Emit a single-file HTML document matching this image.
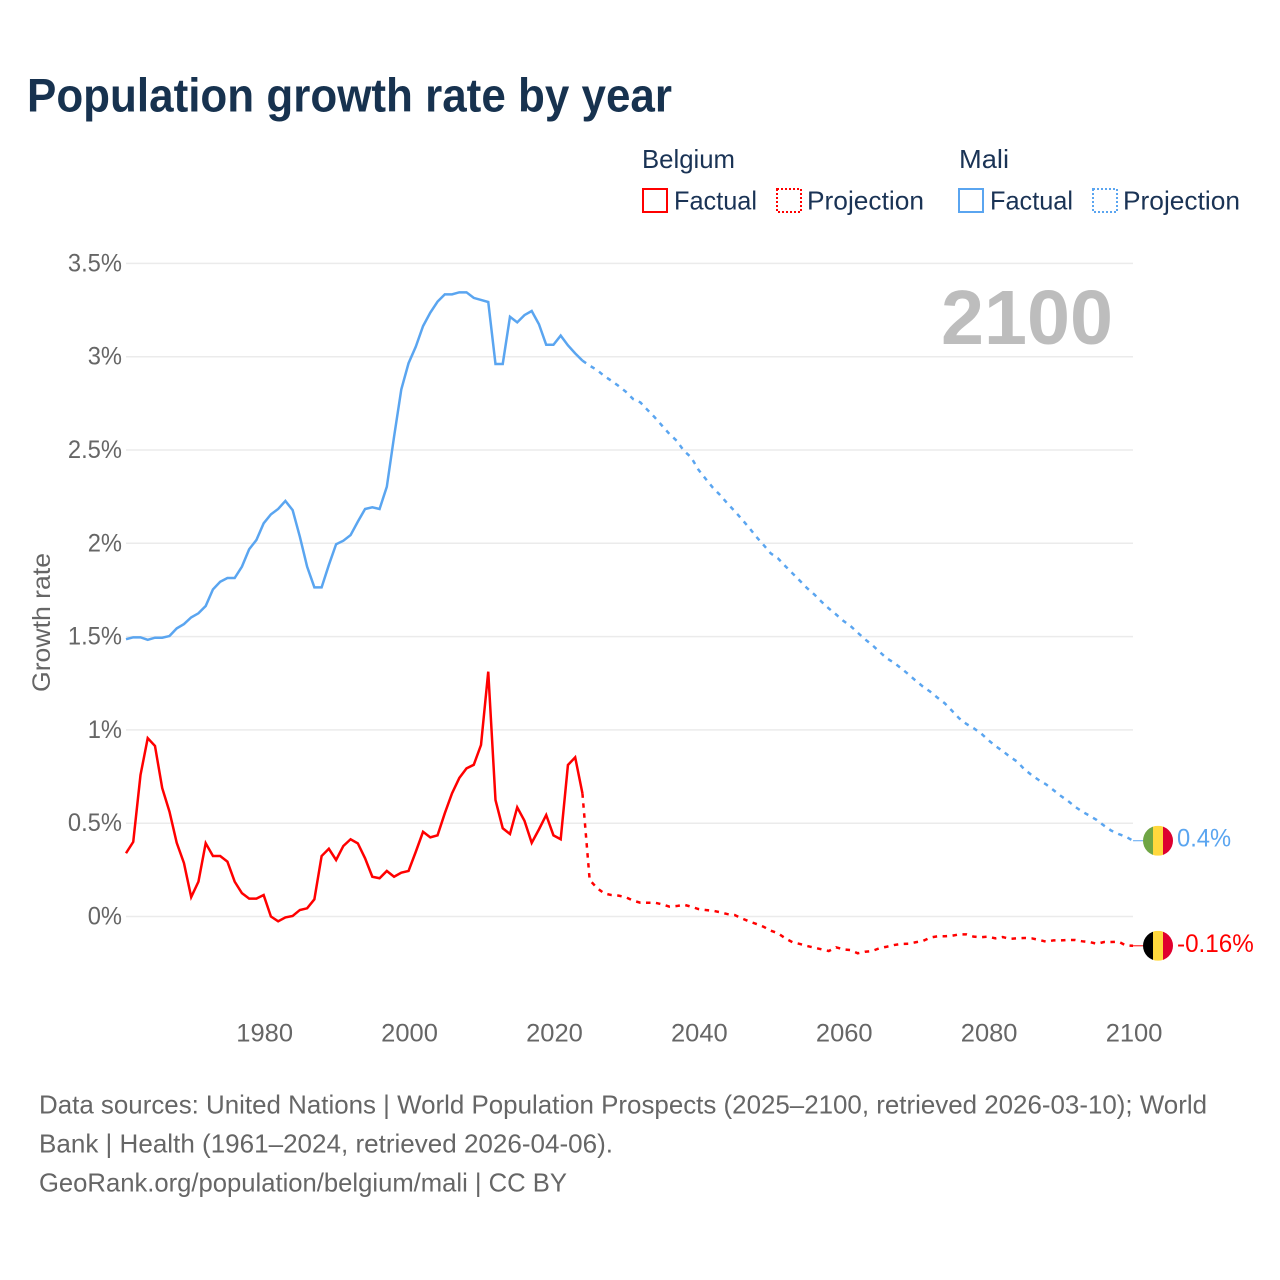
<!DOCTYPE html>
<html lang="en">
<head>
<meta charset="utf-8">
<title>Population growth rate by year</title>
<style>
html,body{margin:0;padding:0;background:#fff;}
svg{display:block;font-family:"Liberation Sans",Arial,sans-serif;}
</style>
</head>
<body>
<svg id="chart" xmlns="http://www.w3.org/2000/svg" width="1280" height="1280" viewBox="0 0 1280 1280">
  <rect x="0" y="0" width="1280" height="1280" fill="#ffffff"/>
  <defs>
    <clipPath id="clip-mali"><circle id="clip-mali-c" cx="1158" cy="841" r="15"/></clipPath>
    <clipPath id="clip-belgium"><circle id="clip-belgium-c" cx="1158" cy="945" r="15"/></clipPath>
  </defs>

  <text x="27" y="111.5" font-size="47" font-weight="700" fill="#17324f" textLength="645" lengthAdjust="spacingAndGlyphs">Population growth rate by year</text>

  <g font-size="26" fill="#1a3355">
    <text x="642" y="168" textLength="93" lengthAdjust="spacingAndGlyphs">Belgium</text>
    <text x="959" y="168" textLength="50" lengthAdjust="spacingAndGlyphs">Mali</text>
    <rect x="643" y="189" width="24" height="23" fill="none" stroke="#ff0000" stroke-width="2"/>
    <text x="674" y="209.5" textLength="83" lengthAdjust="spacingAndGlyphs">Factual</text>
    <rect x="777" y="189" width="24" height="23" fill="none" stroke="#ff0000" stroke-width="2" stroke-dasharray="2 2"/>
    <text x="807" y="209.5" textLength="117" lengthAdjust="spacingAndGlyphs">Projection</text>
    <rect x="959" y="189" width="24" height="23" fill="none" stroke="#5aa5f0" stroke-width="2"/>
    <text x="990" y="209.5" textLength="83" lengthAdjust="spacingAndGlyphs">Factual</text>
    <rect x="1093" y="189" width="24" height="23" fill="none" stroke="#5aa5f0" stroke-width="2" stroke-dasharray="2 2"/>
    <text x="1123" y="209.5" textLength="117" lengthAdjust="spacingAndGlyphs">Projection</text>
  </g>

  <g id="grid"></g>
  <g id="y-axis"></g>
  <g id="x-axis"></g>

  <text transform="translate(50,692) rotate(-90)" font-size="25" fill="#666666" textLength="139" lengthAdjust="spacingAndGlyphs">Growth rate</text>

  <text x="941" y="344" font-size="77" font-weight="700" fill="#bdbdbd" textLength="172" lengthAdjust="spacingAndGlyphs">2100</text>

  <g id="series"></g>
  <g id="ends"></g>

  <g font-size="26" fill="#666666">
    <text x="39" y="1113.5" textLength="1168" lengthAdjust="spacingAndGlyphs">Data sources: United Nations | World Population Prospects (2025–2100, retrieved 2026-03-10); World</text>
    <text x="39" y="1152.5" textLength="574" lengthAdjust="spacingAndGlyphs">Bank | Health (1961–2024, retrieved 2026-04-06).</text>
    <text x="39" y="1191.5" textLength="528" lengthAdjust="spacingAndGlyphs">GeoRank.org/population/belgium/mali | CC BY</text>
  </g>
</svg>

<script>
const factualStartYear = 1961;
const projectionStartYear = 2025;
const belgiumFactual = [0.339,0.40,0.758,0.956,0.914,0.688,0.562,0.395,0.286,0.104,0.187,0.393,0.324,0.324,0.294,0.187,0.125,0.096,0.096,0.115,0.0,-0.026,-0.005,0.003,0.035,0.044,0.092,0.324,0.363,0.303,0.378,0.414,0.392,0.312,0.213,0.205,0.244,0.213,0.235,0.244,0.347,0.454,0.424,0.435,0.553,0.66,0.742,0.794,0.813,0.919,1.312,0.624,0.473,0.442,0.585,0.513,0.395,0.467,0.544,0.435,0.414,0.812,0.853,0.66];
const belgiumProjection = [0.196,0.153,0.124,0.115,0.112,0.103,0.085,0.074,0.074,0.074,0.065,0.053,0.056,0.063,0.053,0.04,0.035,0.031,0.023,0.013,0.008,-0.01,-0.026,-0.04,-0.055,-0.076,-0.09,-0.117,-0.138,-0.147,-0.158,-0.167,-0.176,-0.185,-0.165,-0.176,-0.18,-0.197,-0.189,-0.185,-0.17,-0.162,-0.153,-0.147,-0.146,-0.138,-0.131,-0.113,-0.106,-0.106,-0.103,-0.096,-0.096,-0.108,-0.111,-0.108,-0.117,-0.11,-0.12,-0.117,-0.115,-0.117,-0.125,-0.135,-0.128,-0.128,-0.126,-0.126,-0.133,-0.137,-0.146,-0.137,-0.137,-0.135,-0.155,-0.157];
const maliFactual = [1.486,1.496,1.496,1.483,1.494,1.494,1.503,1.544,1.567,1.603,1.625,1.664,1.753,1.794,1.814,1.814,1.875,1.968,2.018,2.107,2.155,2.184,2.227,2.178,2.035,1.875,1.764,1.764,1.884,1.995,2.014,2.044,2.116,2.184,2.193,2.184,2.303,2.571,2.825,2.965,3.054,3.164,3.236,3.295,3.334,3.334,3.345,3.345,3.315,3.304,3.293,2.961,2.961,3.214,3.184,3.223,3.245,3.174,3.064,3.064,3.113,3.061,3.018,2.979];
const maliProjection = [2.952,2.929,2.897,2.871,2.843,2.812,2.773,2.755,2.714,2.674,2.63,2.586,2.55,2.496,2.461,2.395,2.346,2.298,2.259,2.214,2.173,2.129,2.084,2.035,1.991,1.946,1.919,1.878,1.839,1.8,1.76,1.726,1.687,1.651,1.619,1.585,1.557,1.521,1.486,1.455,1.419,1.384,1.36,1.33,1.298,1.264,1.232,1.205,1.173,1.143,1.103,1.062,1.032,1.009,0.982,0.946,0.914,0.887,0.856,0.83,0.789,0.758,0.731,0.708,0.678,0.647,0.62,0.588,0.562,0.54,0.517,0.487,0.46,0.442,0.428,0.406];
const yTickValues = [0,0.5,1,1.5,2,2.5,3,3.5];
const yTickLabels = ["0%","0.5%","1%","1.5%","2%","2.5%","3%","3.5%"];
const xTickYears = [1980,2000,2020,2040,2060,2080,2100];
const endLabels = ["-0.16%","0.4%"];

const NS = "http://www.w3.org/2000/svg";
const RED = "#ff0000";
const BLUE = "#5aa5f0";

function xScale(year){ return 126 + (year - 1961) * 7.2449; }
function yScale(v){ return 916.5 - v * 186.6; }
function mk(tag, attrs, parent){
  const el = document.createElementNS(NS, tag);
  for (const k in attrs) el.setAttribute(k, attrs[k]);
  parent.appendChild(el);
  return el;
}
function fit(el, factor){
  const len = el.getComputedTextLength() * factor;
  el.setAttribute("textLength", len.toFixed(1));
  el.setAttribute("lengthAdjust", "spacingAndGlyphs");
}
function pathFor(values, startYear, prefix){
  let d = prefix || "";
  values.forEach(function(v, i){
    d += (d ? " L" : "M") + xScale(startYear + i).toFixed(2) + " " + yScale(v).toFixed(2);
  });
  return d;
}

const grid = document.getElementById("grid");
const yAxis = document.getElementById("y-axis");
const xAxis = document.getElementById("x-axis");
const seriesG = document.getElementById("series");
const ends = document.getElementById("ends");

yTickValues.forEach(function(v, i){
  const line = mk("line", {x1:126, x2:1133, y1:yScale(v), y2:yScale(v), stroke:"#ebebeb", "stroke-width":1.5}, grid);
  
  
  const t = mk("text", {x:122, y:yScale(v) + 8, "text-anchor":"end", "font-size":25, fill:"#666666"}, yAxis);
  
  
  t.textContent = yTickLabels[i];
  fit(t, 0.95);
});

xTickYears.forEach(function(y){
  const t = mk("text", {x:xScale(y) + 1, y:1041.5, "text-anchor":"middle", "font-size":25, fill:"#666666"}, xAxis);
  
  
  t.textContent = String(y);
  fit(t, 1.02);
});

function drawSeries(factual, projection, color){
  const lastYear = factualStartYear + factual.length - 1;
  const f = mk("path", {d:pathFor(factual, factualStartYear), fill:"none", stroke:color, "stroke-width":2.5, "stroke-linejoin":"miter"}, seriesG);
  
  
  const start = "M" + xScale(lastYear).toFixed(2) + " " + yScale(factual[factual.length - 1]).toFixed(2);
  const p = mk("path", {d:pathFor(projection, projectionStartYear, start), fill:"none", stroke:color, "stroke-width":2.5, "stroke-dasharray":"4.5 5.5"}, seriesG);
  
  
}
drawSeries(belgiumFactual, belgiumProjection, RED);
drawSeries(maliFactual, maliProjection, BLUE);

function drawEnd(values, color, clipId, clipCircleId, stripes, label, fitFactor){
  const v = values[values.length - 1];
  const cy = yScale(v);
  const endYear = projectionStartYear + values.length - 1;
  const conn = mk("line", {x1:xScale(endYear), x2:1143, y1:cy, y2:cy, stroke:color, "stroke-width":1}, ends);
  
  
  document.getElementById(clipCircleId).setAttribute("cy", cy);
  const g = mk("g", {"clip-path":"url(#" + clipId + ")"}, ends);
  
  
  stripes.forEach(function(c, i){
    const w = 10;
    const r = mk("rect", {x:1143 + i * w, y:cy - 15, width:w, height:30, fill:c}, g);
    
    
  });
  const t = mk("text", {x:1177, y:cy + 6, "font-size":25, fill:color}, ends);
  
  
  t.textContent = label;
  fit(t, fitFactor);
}
drawEnd(belgiumProjection, RED, "clip-belgium", "clip-belgium-c", ["#000000","#ffd83d","#e0002d"], endLabels[0], 0.97);
drawEnd(maliProjection, BLUE, "clip-mali", "clip-mali-c", ["#6fa544","#ffd83d","#dd0030"], endLabels[1], 0.95);
</script>
</body>
</html>
